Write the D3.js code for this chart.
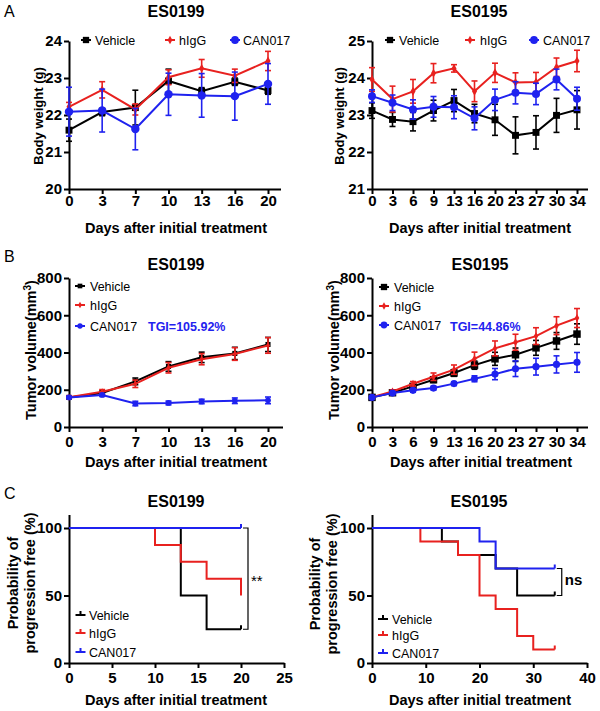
<!DOCTYPE html>
<html><head><meta charset="utf-8">
<script src="https://cdn.jsdelivr.net/npm/d3@7"></script>
<style>body{margin:0;background:#fff}</style>
</head><body>
<script>
// ================= DATA =================
const groups = ["Vehicle", "hIgG", "CAN017"];
const groupColors = ["#000000", "#e8211f", "#1f22ef"];
const panelTitles = ["ES0199", "ES0195"];

// A — body weight (g)
const daysA1 = [0, 3, 7, 10, 13, 16, 20];
const bwA1Vehicle = [21.59, 22.08, 22.2, 22.92, 22.64, 22.9, 22.66];
const bwA1VehicleErr = [0.3, 0.1, 0.47, 0.32, 0.1, 0.1, 0.1];
const bwA1hIgG = [22.22, 22.68, 22.15, 23.02, 23.26, 23.06, 23.46];
const bwA1hIgGErr = [0.12, 0.22, 0.15, 0.2, 0.24, 0.18, 0.26];
const bwA1CAN017 = [22.09, 22.12, 21.62, 22.56, 22.53, 22.51, 22.84];
const bwA1CAN017Err = [0.66, 0.58, 0.56, 0.57, 0.59, 0.65, 0.55];

const daysA2 = [0, 3, 6, 9, 13, 16, 20, 23, 27, 30, 34];
const bwA2Vehicle = [23.12, 22.88, 22.82, 23.12, 23.39, 23.04, 22.87, 22.45, 22.53, 22.99, 23.14];
const bwA2VehicleErr = [0.21, 0.19, 0.25, 0.28, 0.3, 0.25, 0.42, 0.5, 0.45, 0.46, 0.52];
const bwA2hIgG = [23.96, 23.43, 23.64, 24.13, 24.26, 23.64, 24.14, 23.88, 23.89, 24.29, 24.46];
const bwA2hIgGErr = [0.32, 0.35, 0.32, 0.26, 0.1, 0.28, 0.26, 0.26, 0.26, 0.25, 0.29];
const bwA2CAN017 = [23.51, 23.33, 23.15, 23.22, 23.21, 22.91, 23.41, 23.6, 23.57, 23.96, 23.44];
const bwA2CAN017Err = [0.17, 0.21, 0.26, 0.28, 0.31, 0.31, 0.29, 0.3, 0.29, 0.28, 0.31];

// B — tumor volume (mm3)
const tvB1Vehicle = [159, 183, 245, 325, 374, 395, 443];
const tvB1VehicleErr = [8, 10, 18, 26, 28, 33, 38];
const tvB1hIgG = [160, 189, 232, 318, 364, 392, 438];
const tvB1hIgGErr = [8, 12, 20, 28, 30, 34, 42];
const tvB1CAN017 = [159, 172, 126, 129, 137, 141, 143];
const tvB1CAN017Err = [6, 8, 12, 10, 12, 15, 18];
const tgiB1 = "TGI=105.92%";

const tvB2Vehicle = [159, 184, 218, 254, 290, 332, 366, 388, 425, 462, 499];
const tvB2VehicleErr = [6, 8, 10, 15, 18, 22, 35, 36, 40, 45, 55];
const tvB2hIgG = [160, 191, 232, 270, 308, 366, 422, 455, 488, 544, 585];
const tvB2hIgGErr = [6, 8, 12, 20, 25, 36, 40, 43, 45, 48, 51];
const tvB2CAN017 = [159, 182, 197, 209, 233, 259, 284, 313, 324, 336, 347];
const tvB2CAN017Err = [6, 8, 10, 10, 10, 16, 30, 42, 45, 46, 53];
const tgiB2 = "TGI=44.86%";

// C — progression-free probability (%), step times and values
const kmC1VehicleT = [0, 13, 16, 20];
const kmC1VehicleS = [100, 50, 25, 25];
const kmC1hIgGT = [0, 10, 13, 16, 20];
const kmC1hIgGS = [100, 87.5, 75, 62.5, 50];
const kmC1CAN017T = [0, 20];
const kmC1CAN017S = [100, 100];
const kmC1Censor = [[20, 25, 0], [20, 100, 2]]; // [day, value, group index]
const sigC1 = "**";

const kmC2VehicleT = [0, 13, 16, 23, 27, 34];
const kmC2VehicleS = [100, 90, 80, 70, 50, 50];
const kmC2hIgGT = [0, 9, 16, 20, 23, 27, 30, 34];
const kmC2hIgGS = [100, 90, 80, 50, 40, 20, 10, 10];
const kmC2CAN017T = [0, 20, 23, 34];
const kmC2CAN017S = [100, 90, 70, 70];
const kmC2Censor = [[34, 50, 0], [34, 10, 1], [34, 70, 2]];
const sigC2 = "ns";

const xTitle = "Days after initial treatment";

// ================= DRAWING =================
const FONT = "'Liberation Sans', Arial, Helvetica, sans-serif";
const svg = d3.select("body").append("svg")
  .attr("width", 600).attr("height", 711)
  .style("font-family", FONT);

const symbolTypes = [d3.symbolSquare, d3.symbolDiamond, d3.symbolCircle];
const intFmt = d3.format("d");

function styleAxis(g) {
  g.selectAll("path,line").attr("stroke", "#000").attr("stroke-width", 2);
  g.selectAll("text").attr("font-weight", "bold").attr("font-size", 15)
    .attr("fill", "#000").attr("font-family", FONT);
}

function text(str, x, y, opt = {}) {
  const t = svg.append("text").attr("x", x).attr("y", y)
    .attr("font-size", opt.size || 14)
    .attr("font-weight", opt.weight || "normal")
    .attr("text-anchor", opt.anchor || "start")
    .attr("fill", opt.fill || "#000")
    .text(str);
  if (opt.rotate) t.attr("transform", `rotate(-90,${x},${y})`);
  return t;
}

function lineChart(c) {
  const x = d3.scalePoint().domain(c.days).range([c.x0, c.x1]);
  const y = d3.scaleLinear().domain(c.yDomain).range([c.yBot, c.yTop]);
  const g = svg.append("g");
  g.append("g").attr("transform", `translate(${c.x0},0)`)
    .call(d3.axisLeft(y).tickValues(c.yTicks).tickFormat(intFmt).tickSize(5).tickSizeOuter(0).tickPadding(2))
    .call(styleAxis);
  const xa = g.append("g").attr("transform", `translate(0,${c.yBot})`)
    .call(d3.axisBottom(x).tickSize(5).tickSizeOuter(0).tickPadding(c.xPad))
    .call(styleAxis);
  xa.select(".domain").attr("d", `M${c.x0},0.5H${c.xEnd}`);

  c.series.forEach((s, i) => {
    const col = groupColors[i];
    const pts = c.days.map((d, k) => ({ d, v: s.values[k], e: s.err[k] }));
    const sg = g.append("g");
    sg.append("path").datum(pts).attr("fill", "none").attr("stroke", col)
      .attr("stroke-width", 2)
      .attr("d", d3.line().x(p => x(p.d)).y(p => y(p.v)));
    const eb = sg.append("g").attr("stroke", col).attr("stroke-width", 1.6);
    pts.forEach(p => {
      const xx = x(p.d), y1 = y(p.v + p.e), y2 = y(p.v - p.e);
      eb.append("line").attr("x1", xx).attr("x2", xx).attr("y1", y1).attr("y2", y2);
      eb.append("line").attr("x1", xx - 3).attr("x2", xx + 3).attr("y1", y1).attr("y2", y1);
      eb.append("line").attr("x1", xx - 3).attr("x2", xx + 3).attr("y1", y2).attr("y2", y2);
    });
    sg.selectAll(null).data(pts).join("path")
      .attr("transform", p => `translate(${x(p.d)},${y(p.v)})`)
      .attr("d", d3.symbol().type(symbolTypes[i]).size(c.sizes[i]))
      .attr("fill", col);
  });
}

function legendItem(i, cx, tx, cy, size, km) {
  const col = groupColors[i];
  svg.append("line").attr("x1", cx - 5).attr("x2", cx + 5).attr("y1", cy).attr("y2", cy)
    .attr("stroke", col).attr("stroke-width", 2);
  if (km) {
    svg.append("line").attr("x1", cx).attr("x2", cx).attr("y1", cy).attr("y2", cy - 4)
      .attr("stroke", col).attr("stroke-width", 2);
  } else {
    svg.append("path").attr("transform", `translate(${cx},${cy})`)
      .attr("d", d3.symbol().type(symbolTypes[i]).size(size)).attr("fill", col);
  }
  svg.append("text").attr("x", tx).attr("y", cy).attr("dy", "0.36em")
    .attr("font-size", 12.5).attr("fill", "#000").text(groups[i]);
}

function kmChart(c) {
  const x = d3.scaleLinear().domain(c.xDomain).range([c.x0, c.x1]);
  const y = d3.scaleLinear().domain([0, 110]).range([c.yBot, c.yTop]);
  const g = svg.append("g");
  g.append("g").attr("transform", `translate(${c.x0},0)`)
    .call(d3.axisLeft(y).tickValues([0, 50, 100]).tickFormat(intFmt).tickSize(5).tickSizeOuter(0).tickPadding(2))
    .call(styleAxis);
  g.append("g").attr("transform", `translate(0,${c.yBot})`)
    .call(d3.axisBottom(x).tickValues(c.xTicks).tickFormat(intFmt).tickSize(5).tickSizeOuter(0).tickPadding(4))
    .call(styleAxis);
  const line = d3.line().x(p => x(p[0])).y(p => y(p[1])).curve(d3.curveStepAfter);
  c.series.forEach((s, i) => {
    g.append("path").datum(s.t.map((t, k) => [t, s.s[k]]))
      .attr("fill", "none").attr("stroke", groupColors[i]).attr("stroke-width", 2)
      .attr("d", line);
  });
  c.censor.forEach(([t, v, i]) => {
    g.append("line").attr("x1", x(t)).attr("x2", x(t)).attr("y1", y(v)).attr("y2", y(v) - 4)
      .attr("stroke", groupColors[i]).attr("stroke-width", 2);
  });
  // significance bracket
  const bx = x(c.bracket[0]) + 7;
  const yA = y(c.bracket[1]), yB = y(c.bracket[2]);
  g.append("path").attr("fill", "none").attr("stroke", "#000").attr("stroke-width", 1.2)
    .attr("d", `M${bx - 5},${yA}H${bx}V${yB}H${bx - 5}`);
  g.append("text").attr("x", bx + 3).attr("y", c.sigY).attr("font-size", c.sigSize)
    .attr("font-weight", c.sigWeight).text(c.sig);
}

// ---------- Row A ----------
text("A", 4, 17, { size: 16 });
lineChart({
  days: daysA1, x0: 69, x1: 268, xEnd: 281, yTop: 41, yBot: 189,
  yDomain: [20, 24], yTicks: [20, 21, 22, 23, 24], xPad: 1.5,
  sizes: [48, 22, 56],
  series: [
    { values: bwA1Vehicle, err: bwA1VehicleErr },
    { values: bwA1hIgG, err: bwA1hIgGErr },
    { values: bwA1CAN017, err: bwA1CAN017Err }
  ]
});
lineChart({
  days: daysA2, x0: 372, x1: 577, xEnd: 588, yTop: 41, yBot: 189,
  yDomain: [21, 25], yTicks: [21, 22, 23, 24, 25], xPad: 1.5,
  sizes: [48, 22, 50],
  series: [
    { values: bwA2Vehicle, err: bwA2VehicleErr },
    { values: bwA2hIgG, err: bwA2hIgGErr },
    { values: bwA2CAN017, err: bwA2CAN017Err }
  ]
});
text(panelTitles[0], 176, 17, { size: 16, weight: "bold", anchor: "middle" });
text(panelTitles[1], 479, 17, { size: 16, weight: "bold", anchor: "middle" });
legendItem(0, 86, 95, 40, 40); legendItem(1, 170, 179, 40, 20); legendItem(2, 235, 243, 40, 48);
legendItem(0, 390, 399, 40, 40); legendItem(1, 470, 480, 40, 20); legendItem(2, 534, 543, 40, 48);
text("Body weight (g)", 43, 116, { size: 13, weight: "bold", anchor: "middle", rotate: true });
text("Body weight (g)", 344, 116, { size: 13, weight: "bold", anchor: "middle", rotate: true });
text(xTitle, 176, 233, { size: 14.5, weight: "bold", anchor: "middle" });
text(xTitle, 480, 233, { size: 14.5, weight: "bold", anchor: "middle" });

// ---------- Row B ----------
text("B", 4, 262, { size: 16 });
lineChart({
  days: daysA1, x0: 69, x1: 268, xEnd: 283, yTop: 278, yBot: 427,
  yDomain: [0, 800], yTicks: [0, 200, 400, 600, 800], xPad: 4.5,
  sizes: [26, 14, 26],
  series: [
    { values: tvB1Vehicle, err: tvB1VehicleErr },
    { values: tvB1hIgG, err: tvB1hIgGErr },
    { values: tvB1CAN017, err: tvB1CAN017Err }
  ]
});
lineChart({
  days: daysA2, x0: 372, x1: 577, xEnd: 588, yTop: 278, yBot: 427,
  yDomain: [0, 800], yTicks: [0, 200, 400, 600, 800], xPad: 4.5,
  sizes: [56, 18, 40],
  series: [
    { values: tvB2Vehicle, err: tvB2VehicleErr },
    { values: tvB2hIgG, err: tvB2hIgGErr },
    { values: tvB2CAN017, err: tvB2CAN017Err }
  ]
});
text(panelTitles[0], 176, 270, { size: 16, weight: "bold", anchor: "middle" });
text(panelTitles[1], 480, 270, { size: 16, weight: "bold", anchor: "middle" });
legendItem(0, 80, 90, 286, 22); legendItem(1, 80, 90, 305, 12); legendItem(2, 80, 90, 326, 22);
legendItem(0, 384, 394, 287, 40); legendItem(1, 384, 394, 306, 16); legendItem(2, 384, 394, 325, 36);
text(tgiB1, 148, 331, { size: 12.5, weight: "bold", fill: groupColors[2] });
text(tgiB2, 450, 331, { size: 12.5, weight: "bold", fill: groupColors[2] });
[[36, 350], [339, 350]].forEach(([tx, ty]) => {
  const t = text("Tumor volume(mm", tx, ty, { size: 14.5, weight: "bold", anchor: "middle", rotate: true });
  t.append("tspan").attr("baseline-shift", "super").attr("font-size", 10).text("3");
  t.append("tspan").text(")");
});
text(xTitle, 176, 467, { size: 14.5, weight: "bold", anchor: "middle" });
text(xTitle, 481, 467, { size: 14.5, weight: "bold", anchor: "middle" });

// ---------- Row C ----------
text("C", 4, 499, { size: 16 });
kmChart({
  xDomain: [0, 25], xTicks: [0, 5, 10, 15, 20, 25], x0: 69, x1: 284, yTop: 514.5, yBot: 663,
  series: [
    { t: kmC1VehicleT, s: kmC1VehicleS },
    { t: kmC1hIgGT, s: kmC1hIgGS },
    { t: kmC1CAN017T, s: kmC1CAN017S }
  ],
  censor: kmC1Censor, bracket: [20, 100, 25], sig: sigC1, sigY: 586, sigSize: 15, sigWeight: "normal"
});
kmChart({
  xDomain: [0, 40], xTicks: [0, 10, 20, 30, 40], x0: 372, x1: 587, yTop: 514.5, yBot: 663,
  series: [
    { t: kmC2VehicleT, s: kmC2VehicleS },
    { t: kmC2hIgGT, s: kmC2hIgGS },
    { t: kmC2CAN017T, s: kmC2CAN017S }
  ],
  censor: kmC2Censor, bracket: [34, 70, 50], sig: sigC2, sigY: 585, sigSize: 15, sigWeight: "bold"
});
text(panelTitles[0], 176, 507, { size: 16, weight: "bold", anchor: "middle" });
text(panelTitles[1], 479, 507, { size: 16, weight: "bold", anchor: "middle" });
legendItem(0, 80.5, 89, 615, 0, true); legendItem(1, 80.5, 89, 633, 0, true); legendItem(2, 80.5, 89, 652, 0, true);
legendItem(0, 383, 392, 619, 0, true); legendItem(1, 383, 392, 635, 0, true); legendItem(2, 383, 392, 653, 0, true);
[[18, 35, 583], [320, 337, 584]].forEach(([x1, x2, cy]) => {
  text("Probability of", x1, cy, { size: 14.5, weight: "bold", anchor: "middle", rotate: true });
  text("progression free (%)", x2, cy, { size: 14.5, weight: "bold", anchor: "middle", rotate: true });
});
text(xTitle, 176, 705, { size: 14.5, weight: "bold", anchor: "middle" });
text(xTitle, 480, 705, { size: 14.5, weight: "bold", anchor: "middle" });
</script>
</body></html>
